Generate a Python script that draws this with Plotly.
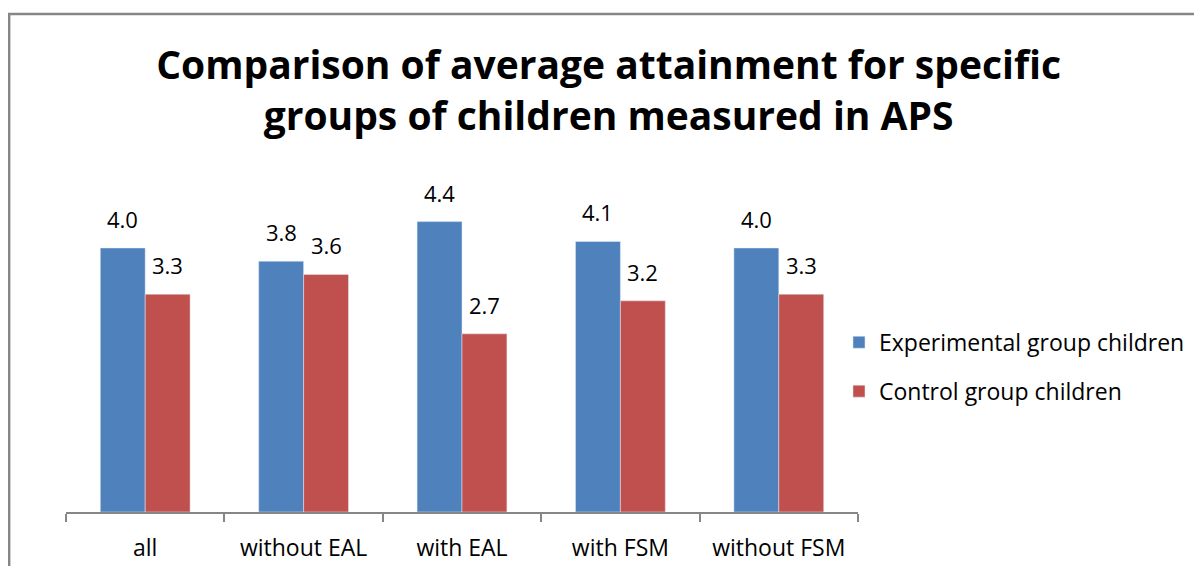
import plotly.graph_objects as go

categories = ["all", "without EAL", "with EAL", "with FSM", "without FSM"]
experimental = [4.0, 3.8, 4.4, 4.1, 4.0]
control = [3.3, 3.6, 2.7, 3.2, 3.3]
series_names = ["Experimental group children", "Control group children"]

BLUE = "#4F81BD"
RED = "#C0504D"
FONT = "Open Sans"

fig = go.Figure()

fig.add_trace(go.Bar(x=categories, y=experimental, name=series_names[0],
                     marker_color=BLUE, legendgroup="a"))
fig.add_trace(go.Bar(x=categories, y=control, name=series_names[1],
                     marker_color=RED, legendgroup="b"))

# value labels above each bar
for vals, shift in ((experimental, -22.5), (control, 22.5)):
    for cat, v in zip(categories, vals):
        fig.add_annotation(x=cat, y=v, text=f"{v:.1f}", showarrow=False,
                           xshift=shift, yshift=12, yanchor="bottom",
                           font=dict(family=FONT, size=22, color="black"))

# frame of the chart area (partly cut off in the picture)
fig.add_shape(type="path", xref="paper", yref="paper",
              path="M -0.0718,-0.2 L -0.0718,1.509 L 1.5,1.509",
              line=dict(color="#868686", width=2.5))

fig.update_layout(
    width=1194, height=558,
    margin=dict(l=58, r=342, t=174, b=54),
    paper_bgcolor="white", plot_bgcolor="white",
    barmode="group", bargap=0.433, bargroupgap=0,
    title=dict(text="<b>Comparison of average attainment for specific<br>groups of children measured in APS</b>",
               x=0.503, xanchor="center", y=0.872, yanchor="top",
               font=dict(family=FONT, size=39, color="black")),
    legend=dict(x=0.976, xanchor="left", y=0.44, yanchor="middle",
                font=dict(family=FONT, size=23, color="black"),
                traceorder="grouped", tracegroupgap=16,
                bgcolor="rgba(0,0,0,0)"),
    font=dict(family=FONT, color="black"),
    showlegend=True,
)

fig.update_xaxes(showline=True, linecolor="#868686", linewidth=2,
                 ticks="outside", tickson="boundaries", ticklen=8,
                 tickcolor="#868686", tickwidth=2, ticklabelstandoff=14,
                 tickfont=dict(family=FONT, size=23, color="black"),
                 showgrid=False, automargin=False)
fig.update_yaxes(visible=False, range=[0, 5], showgrid=False, automargin=False)

fig.write_html("out.html")
